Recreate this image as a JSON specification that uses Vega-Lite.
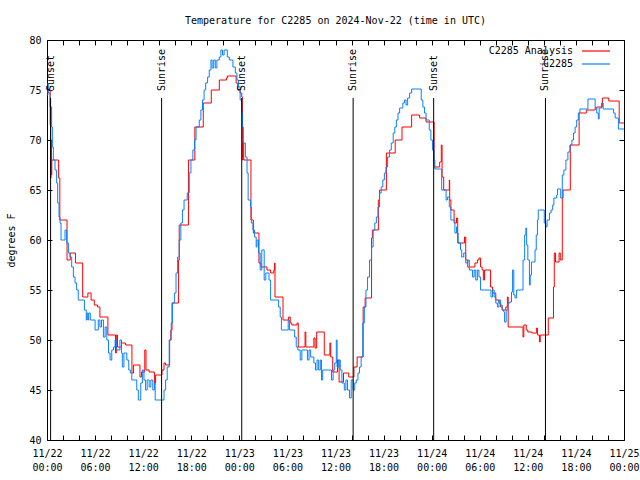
{
"$schema": "https://vega.github.io/schema/vega-lite/v6.json",
"width": 577, "height": 400,
"autosize": "none",
"padding": {"left": 47, "top": 40, "right": 16, "bottom": 40},
"background": "white",
"title": {"text": "Temperature for C2285 on 2024-Nov-22 (time in UTC)", "font": "DejaVu Sans Mono", "fontSize": 10, "fontWeight": "normal", "anchor": "middle", "offset": 9, "color": "black"},
"config": {
  "view": {"stroke": "black", "strokeWidth": 1},
  "axis": {"grid": false, "domain": false, "tickColor": "black", "tickSize": -5, "labelFont": "DejaVu Sans Mono", "labelFontSize": 10, "labelColor": "black", "titleFont": "DejaVu Sans Mono", "titleFontSize": 10, "titleFontWeight": "normal", "titleColor": "black"},
  "legend": {"orient": "none", "legendX": 543, "legendY": 5, "padding": 0, "symbolType": "M-2.8,0H2.8", "symbolSize": 100, "symbolStrokeWidth": 1.2, "labelAlign": "right", "labelOffset": -29, "labelFont": "DejaVu Sans Mono", "labelFontSize": 10, "labelColor": "black", "rowPadding": 2}
},
"datasets": {
"ana": [{"h":0,"v":74.5},{"h":0.1,"v":75},{"h":0.4,"v":71.5},{"h":0.45,"v":66.2},{"h":0.5,"v":70},{"h":0.55,"v":66.5},{"h":0.6,"v":68},{"h":1.45,"v":66.2},{"h":1.6,"v":62},{"h":2.5,"v":58},{"h":2.9,"v":58.7},{"h":3.55,"v":57.7},{"h":4.45,"v":54.3},{"h":5.1,"v":54.7},{"h":5.5,"v":54},{"h":5.9,"v":53.5},{"h":6.3,"v":53.3},{"h":6.6,"v":52.3},{"h":7.6,"v":50.5},{"h":8.55,"v":48.7},{"h":8.65,"v":50.5},{"h":8.8,"v":49.3},{"h":9.3,"v":49.7},{"h":9.8,"v":49.5},{"h":10.6,"v":46.7},{"h":10.8,"v":47.5},{"h":11.6,"v":46.3},{"h":11.8,"v":46.8},{"h":12.2,"v":49},{"h":12.35,"v":47},{"h":12.75,"v":46.8},{"h":13.4,"v":45.7},{"h":13.55,"v":46.5},{"h":14.35,"v":47},{"h":14.6,"v":47.7},{"h":14.8,"v":47.5},{"h":15.3,"v":50},{"h":15.45,"v":51},{"h":15.6,"v":53.7},{"h":16.4,"v":58},{"h":16.5,"v":61.5},{"h":17.65,"v":68},{"h":18.45,"v":71.3},{"h":19.5,"v":73.7},{"h":20.5,"v":75},{"h":21.5,"v":76},{"h":22.4,"v":76.2},{"h":22.5,"v":76.4},{"h":23.2,"v":76.4},{"h":23.6,"v":75.7},{"h":23.8,"v":75},{"h":24.1,"v":74.7},{"h":24.3,"v":74.3},{"h":24.38,"v":68},{"h":24.45,"v":69.7},{"h":24.55,"v":68},{"h":25.45,"v":62},{"h":25.75,"v":60.7},{"h":26.45,"v":57.7},{"h":26.7,"v":57.3},{"h":27.45,"v":57},{"h":27.9,"v":56.7},{"h":28.3,"v":57},{"h":28.4,"v":57.7},{"h":28.45,"v":54.3},{"h":29.45,"v":52},{"h":30.15,"v":52.3},{"h":30.35,"v":51.7},{"h":30.55,"v":51.5},{"h":31.2,"v":51.7},{"h":31.35,"v":49.3},{"h":32.2,"v":50.8},{"h":32.3,"v":49.3},{"h":33.3,"v":50.2},{"h":33.45,"v":49.2},{"h":33.65,"v":50.8},{"h":34.6,"v":48.5},{"h":35.3,"v":49.7},{"h":35.4,"v":48.3},{"h":35.65,"v":46.8},{"h":36.25,"v":48},{"h":36.45,"v":45.8},{"h":37.0,"v":46.7},{"h":37.65,"v":46.3},{"h":38.3,"v":47.3},{"h":38.7,"v":48.3},{"h":39.45,"v":53.3},{"h":39.7,"v":54.2},{"h":40.5,"v":60.2},{"h":40.6,"v":61},{"h":41.35,"v":64},{"h":41.5,"v":65},{"h":42.35,"v":68.7},{"h":43.45,"v":70},{"h":44.3,"v":71.3},{"h":45.5,"v":72.5},{"h":46.5,"v":72.2},{"h":47.3,"v":71.8},{"h":48.3,"v":67.3},{"h":49.0,"v":67.8},{"h":49.2,"v":69.5},{"h":49.3,"v":66.3},{"h":49.5,"v":65},{"h":50.1,"v":65},{"h":50.2,"v":66},{"h":50.25,"v":64},{"h":50.4,"v":63},{"h":50.8,"v":61.7},{"h":51.1,"v":62.2},{"h":51.25,"v":59.7},{"h":52.1,"v":60.3},{"h":52.25,"v":58},{"h":52.5,"v":57.3},{"h":53.4,"v":57.7},{"h":53.7,"v":58},{"h":53.9,"v":58.2},{"h":54.1,"v":57.3},{"h":54.3,"v":57},{"h":54.45,"v":56},{"h":54.6,"v":57},{"h":55.35,"v":55.3},{"h":55.6,"v":54.7},{"h":56.0,"v":54},{"h":56.4,"v":53.7},{"h":56.6,"v":53.3},{"h":56.8,"v":53},{"h":57.25,"v":53.3},{"h":57.45,"v":54.3},{"h":57.55,"v":51.3},{"h":59.3,"v":51.3},{"h":59.4,"v":50.3},{"h":59.5,"v":51.5},{"h":59.8,"v":51},{"h":60.0,"v":50.8},{"h":60.5,"v":50.7},{"h":61.1,"v":51.2},{"h":61.2,"v":50.5},{"h":61.45,"v":49.8},{"h":61.55,"v":50.5},{"h":62.55,"v":52.2},{"h":63.2,"v":55.3},{"h":63.3,"v":58.7},{"h":63.45,"v":57.8},{"h":63.9,"v":58.7},{"h":64.05,"v":58},{"h":64.3,"v":64.2},{"h":64.4,"v":65},{"h":65.3,"v":69.5},{"h":66.4,"v":72.7},{"h":67.3,"v":73},{"h":68.4,"v":73.2},{"h":68.6,"v":73.3},{"h":69.3,"v":74.2},{"h":70.1,"v":73.9},{"h":71.4,"v":71.7},{"h":72,"v":71.7}],
"obs": [{"h":0,"v":75.6},{"h":0.17,"v":74.7},{"h":0.375,"v":73.3},{"h":0.58,"v":71.3},{"h":0.67,"v":69.3},{"h":0.79,"v":68},{"h":1.0,"v":67},{"h":1.2,"v":65.7},{"h":1.33,"v":63.7},{"h":1.5,"v":62.3},{"h":1.625,"v":61.7},{"h":1.75,"v":60},{"h":2.04,"v":60},{"h":2.25,"v":61},{"h":2.46,"v":59.7},{"h":2.67,"v":58.7},{"h":2.875,"v":58.3},{"h":3.08,"v":57.3},{"h":3.29,"v":56.3},{"h":3.5,"v":55.7},{"h":3.7,"v":55},{"h":3.9,"v":54},{"h":4.5,"v":54},{"h":4.67,"v":53},{"h":4.9,"v":52},{"h":5.0,"v":52.7},{"h":5.1,"v":52},{"h":5.2,"v":52.7},{"h":5.4,"v":52},{"h":6.0,"v":51},{"h":6.4,"v":52},{"h":6.6,"v":51.3},{"h":6.8,"v":52},{"h":7.04,"v":50.3},{"h":7.25,"v":51.3},{"h":7.46,"v":50},{"h":7.67,"v":48.7},{"h":7.875,"v":48},{"h":8.08,"v":49},{"h":8.3,"v":49.3},{"h":8.5,"v":50},{"h":8.7,"v":49},{"h":9.1,"v":50},{"h":9.3,"v":48.7},{"h":9.4,"v":47.3},{"h":9.6,"v":48.7},{"h":9.96,"v":48},{"h":10.2,"v":47},{"h":10.4,"v":46.7},{"h":10.58,"v":46},{"h":11.0,"v":46},{"h":11.2,"v":45},{"h":11.4,"v":44},{"h":11.7,"v":45.7},{"h":11.9,"v":47},{"h":12.1,"v":46},{"h":12.3,"v":45},{"h":12.5,"v":46},{"h":12.75,"v":45.3},{"h":12.96,"v":46},{"h":13.2,"v":45},{"h":13.4,"v":45.7},{"h":13.5,"v":44},{"h":14.4,"v":44},{"h":14.6,"v":45},{"h":14.8,"v":46},{"h":15.0,"v":47.3},{"h":15.25,"v":50},{"h":15.5,"v":51.7},{"h":15.67,"v":53.7},{"h":15.9,"v":54.7},{"h":16.1,"v":56.7},{"h":16.3,"v":58.3},{"h":16.5,"v":60},{"h":16.7,"v":61.7},{"h":16.9,"v":63},{"h":17.1,"v":64},{"h":17.5,"v":64.7},{"h":17.75,"v":66.7},{"h":17.96,"v":68},{"h":18.2,"v":69},{"h":18.4,"v":70},{"h":18.6,"v":71.3},{"h":19.0,"v":72},{"h":19.2,"v":73},{"h":19.4,"v":74},{"h":19.6,"v":75},{"h":19.8,"v":75.7},{"h":20.04,"v":76.3},{"h":20.25,"v":77},{"h":20.46,"v":78},{"h":20.6,"v":77.2},{"h":20.8,"v":78},{"h":21.0,"v":77.2},{"h":21.2,"v":78},{"h":21.5,"v":78.3},{"h":21.7,"v":79},{"h":21.9,"v":78.5},{"h":22.1,"v":79},{"h":22.5,"v":78.3},{"h":22.75,"v":78},{"h":23.2,"v":77.3},{"h":23.5,"v":76.7},{"h":23.7,"v":76},{"h":23.9,"v":75.3},{"h":24.1,"v":74},{"h":24.3,"v":72.7},{"h":24.4,"v":71.3},{"h":24.5,"v":69.7},{"h":24.75,"v":68.3},{"h":24.96,"v":66.7},{"h":25.1,"v":64},{"h":25.4,"v":63.3},{"h":25.5,"v":61.7},{"h":25.7,"v":61},{"h":25.9,"v":60.3},{"h":26.1,"v":59.3},{"h":26.2,"v":60},{"h":26.4,"v":58.7},{"h":26.6,"v":57},{"h":26.8,"v":59},{"h":27.1,"v":56},{"h":27.3,"v":56.7},{"h":27.7,"v":56},{"h":27.9,"v":54},{"h":28.7,"v":54},{"h":28.9,"v":53.3},{"h":29.1,"v":52.3},{"h":29.25,"v":51},{"h":29.96,"v":51},{"h":30.1,"v":52},{"h":30.25,"v":51},{"h":30.9,"v":50.3},{"h":31.1,"v":49.3},{"h":31.3,"v":49},{"h":31.6,"v":48},{"h":31.8,"v":49},{"h":32.25,"v":49},{"h":32.5,"v":48},{"h":32.7,"v":49},{"h":32.9,"v":48.3},{"h":33.3,"v":47.7},{"h":33.5,"v":47},{"h":33.7,"v":48},{"h":33.9,"v":47},{"h":34.1,"v":48},{"h":34.25,"v":46},{"h":34.4,"v":47},{"h":35.2,"v":47},{"h":35.5,"v":46},{"h":35.7,"v":47},{"h":35.9,"v":47.7},{"h":36.1,"v":50},{"h":36.2,"v":47.3},{"h":36.4,"v":48},{"h":36.6,"v":47},{"h":36.8,"v":45.7},{"h":37.1,"v":45},{"h":37.3,"v":46},{"h":37.5,"v":45},{"h":37.75,"v":44.2},{"h":37.96,"v":46},{"h":38.2,"v":45},{"h":38.4,"v":45.7},{"h":38.6,"v":46},{"h":38.8,"v":46.7},{"h":39.0,"v":47.3},{"h":39.2,"v":48.3},{"h":39.4,"v":51.7},{"h":39.6,"v":53.3},{"h":39.8,"v":55},{"h":40.0,"v":56.3},{"h":40.25,"v":58},{"h":40.5,"v":59.3},{"h":40.7,"v":61},{"h":40.9,"v":61.7},{"h":41.1,"v":62.3},{"h":41.3,"v":63.3},{"h":41.5,"v":64.7},{"h":41.7,"v":65.3},{"h":41.9,"v":66},{"h":42.1,"v":66.7},{"h":42.3,"v":67.3},{"h":42.5,"v":68.3},{"h":42.75,"v":69},{"h":42.96,"v":69.7},{"h":43.2,"v":70.7},{"h":43.4,"v":71.3},{"h":43.6,"v":72},{"h":43.8,"v":72.7},{"h":44.0,"v":73.2},{"h":44.4,"v":73.7},{"h":44.6,"v":74},{"h":44.8,"v":73.5},{"h":45.0,"v":74.2},{"h":45.25,"v":74.7},{"h":45.5,"v":75.1},{"h":46.5,"v":75.1},{"h":46.7,"v":74},{"h":46.9,"v":73.3},{"h":47.1,"v":72.7},{"h":47.3,"v":72},{"h":47.7,"v":71},{"h":47.9,"v":70},{"h":48.1,"v":69},{"h":48.3,"v":68},{"h":48.4,"v":67.1},{"h":49.1,"v":67.1},{"h":49.25,"v":65},{"h":49.75,"v":65},{"h":49.8,"v":64},{"h":49.96,"v":64.3},{"h":50.2,"v":63.3},{"h":50.4,"v":62},{"h":50.8,"v":62},{"h":50.9,"v":60.7},{"h":51.1,"v":61.3},{"h":51.2,"v":60.7},{"h":51.3,"v":59.7},{"h":51.6,"v":59},{"h":51.75,"v":58.3},{"h":52.0,"v":58.7},{"h":52.25,"v":57.7},{"h":52.5,"v":58},{"h":52.7,"v":57},{"h":53.1,"v":56.3},{"h":53.3,"v":57},{"h":53.5,"v":56},{"h":53.7,"v":57},{"h":53.9,"v":56.3},{"h":54.1,"v":55},{"h":55.2,"v":55},{"h":55.4,"v":54.3},{"h":55.6,"v":55},{"h":55.8,"v":54.3},{"h":56.0,"v":53.7},{"h":56.2,"v":53.3},{"h":56.4,"v":54},{"h":56.6,"v":53.5},{"h":56.8,"v":53},{"h":57.0,"v":52.8},{"h":57.1,"v":51.8},{"h":57.3,"v":53},{"h":57.5,"v":53.7},{"h":57.75,"v":53.8},{"h":57.96,"v":54.8},{"h":58.1,"v":57},{"h":58.25,"v":54.5},{"h":58.4,"v":54.2},{"h":58.6,"v":55},{"h":59.2,"v":55},{"h":59.4,"v":58},{"h":59.6,"v":60.5},{"h":59.75,"v":61.2},{"h":59.85,"v":59.5},{"h":60.0,"v":58},{"h":60.2,"v":55.5},{"h":60.3,"v":56.5},{"h":60.45,"v":57.8},{"h":60.7,"v":57.8},{"h":60.9,"v":59},{"h":61.05,"v":60.5},{"h":61.2,"v":62},{"h":61.3,"v":63},{"h":61.9,"v":63},{"h":62.05,"v":61.7},{"h":62.25,"v":61.3},{"h":62.4,"v":62},{"h":62.7,"v":62.7},{"h":62.9,"v":63},{"h":63.1,"v":63.5},{"h":63.25,"v":64.2},{"h":63.6,"v":64.5},{"h":63.7,"v":65.1},{"h":63.9,"v":65.1},{"h":64.1,"v":64.2},{"h":64.3,"v":66.5},{"h":64.5,"v":67},{"h":64.75,"v":68},{"h":65.0,"v":68.8},{"h":65.25,"v":69.5},{"h":65.5,"v":70},{"h":65.7,"v":70.7},{"h":65.9,"v":71.3},{"h":66.1,"v":72},{"h":66.3,"v":72.7},{"h":66.5,"v":73.1},{"h":67.3,"v":73.1},{"h":67.5,"v":74.1},{"h":68.2,"v":74.1},{"h":68.4,"v":73.2},{"h":68.6,"v":72.7},{"h":68.8,"v":72.1},{"h":68.9,"v":73.2},{"h":69.2,"v":73.7},{"h":69.4,"v":73.1},{"h":70.5,"v":73.1},{"h":70.7,"v":72.7},{"h":70.9,"v":72.2},{"h":71.3,"v":71.1},{"h":72,"v":71.1}],
"sun": [{"h":0.45,"e":"Sunset"},{"h":14.3,"e":"Sunrise"},{"h":24.3,"e":"Sunset"},{"h":38.2,"e":"Sunrise"},{"h":48.25,"e":"Sunset"},{"h":62.2,"e":"Sunrise"}]
},
"resolve": {"axis": {"x": "independent", "y": "independent"}},
"layer": [
  {
    "data": {"name": "ana"},
    "mark": {"type": "line", "interpolate": "step-after", "strokeWidth": 1, "clip": true},
    "encoding": {
      "x": {"field": "h", "type": "quantitative", "scale": {"domain": [0, 72], "nice": false, "zero": false}, "axis": {"orient": "top", "labels": false, "values": [0,2,4,6,8,10,12,14,16,18,20,22,24,26,28,30,32,34,36,38,40,42,44,46,48,50,52,54,56,58,60,62,64,66,68,70,72], "title": null}},
      "y": {"field": "v", "type": "quantitative", "scale": {"domain": [40, 80], "nice": false, "zero": false}, "axis": {"orient": "right", "labels": false, "values": [40,45,50,55,60,65,70,75,80], "title": null}},
      "color": {"datum": "C2285 Analysis", "type": "nominal", "scale": {"domain": ["C2285 Analysis", "C2285"], "range": ["#ff0000", "#0a80ff"]}, "legend": {"title": null}}
    }
  },
  {
    "data": {"name": "obs"},
    "mark": {"type": "line", "interpolate": "step-after", "strokeWidth": 1, "clip": true},
    "encoding": {
      "x": {"field": "h", "type": "quantitative", "axis": {"orient": "bottom", "values": [0,2,4,6,8,10,12,14,16,18,20,22,24,26,28,30,32,34,36,38,40,42,44,46,48,50,52,54,56,58,60,62,64,66,68,70,72], "labelExpr": "datum.value % 6 == 0 ? ['11/' + (22 + floor(datum.value / 24)), (datum.value % 24 < 10 ? '0' : '') + (datum.value % 24) + ':00'] : ''", "labelLineHeight": 14, "labelPadding": 13, "labelFlush": false, "labelOverlap": false, "title": null}},
      "y": {"field": "v", "type": "quantitative", "axis": {"orient": "left", "values": [40,45,50,55,60,65,70,75,80], "title": "degrees F", "labelPadding": 11, "titlePadding": 12}},
      "color": {"datum": "C2285", "type": "nominal"}
    }
  },
  {
    "data": {"name": "sun"},
    "mark": {"type": "rule", "color": "black", "strokeWidth": 1},
    "encoding": {
      "x": {"field": "h", "type": "quantitative", "axis": null},
      "y": {"datum": 40, "axis": null},
      "y2": {"datum": 74.2}
    }
  },
  {
    "data": {"name": "sun"},
    "mark": {"type": "text", "angle": 270, "align": "left", "baseline": "middle", "font": "DejaVu Sans Mono", "fontSize": 10, "color": "black", "dx": 1},
    "encoding": {
      "x": {"field": "h", "type": "quantitative", "axis": null},
      "y": {"datum": 74.8, "axis": null},
      "text": {"field": "e"}
    }
  }
]
}
